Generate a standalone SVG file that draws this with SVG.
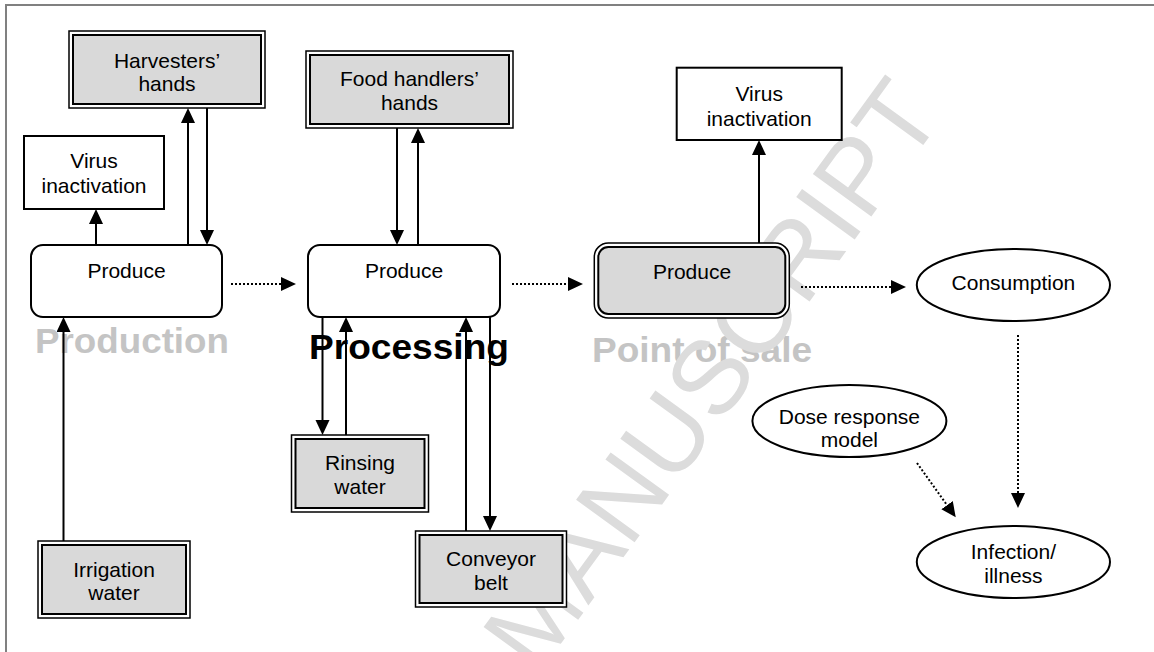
<svg xmlns="http://www.w3.org/2000/svg" width="1154" height="652" viewBox="0 0 1154 652">
<style>
text{font-family:"Liberation Sans",Arial,sans-serif;}
.lbl{font-size:21px;fill:#000;text-anchor:middle;}
.stage{font-size:35px;font-weight:bold;}
.gray{fill:#c4c4c4;}
.box{fill:#fff;stroke:#000;stroke-width:2;}
.outer{fill:#fff;stroke:#000;stroke-width:1.5;}
.inner{fill:#d9d9d9;stroke:#000;stroke-width:2;}
.ell{fill:#fff;stroke:#000;stroke-width:2;}
.solid{stroke:#000;stroke-width:2;fill:none;marker-end:url(#ah);}
.dot{stroke:#000;stroke-width:2;fill:none;stroke-dasharray:2 2;marker-end:url(#ah);}
.wm{font-size:105px;fill:#dcdcdc;}
</style>
<defs>
<marker id="ah" markerUnits="userSpaceOnUse" markerWidth="16" markerHeight="16" refX="3" refY="7" orient="auto">
<path d="M0,0 L15,7 L0,14 z" fill="#000"/>
</marker>
</defs>
<rect x="0" y="0" width="1154" height="652" fill="#fff"/>
<g id="frame" stroke="#808080" stroke-width="2" fill="none">
<line x1="5" y1="5" x2="1154" y2="5"/>
<line x1="6" y1="4" x2="6" y2="652"/>
</g>
<g id="stage-labels">
<text class="stage gray" x="35" y="353" textLength="194" lengthAdjust="spacingAndGlyphs">Production</text>
<text class="stage" x="309" y="359" textLength="200" lengthAdjust="spacingAndGlyphs">Processing</text>
<text class="stage gray" x="592" y="362" textLength="220" lengthAdjust="spacingAndGlyphs">Point of sale</text>
</g>
<text class="wm" transform="translate(945,115) rotate(-54)" text-anchor="end">MANUSCRIPT</text>
<g id="harvesters">
<rect class="outer" x="69" y="31" width="196" height="77"/>
<rect class="inner" x="73" y="35" width="188" height="69"/>
<text class="lbl" x="167" y="68">Harvesters’</text>
<text class="lbl" x="167" y="91">hands</text>
</g>
<g id="virus1">
<rect class="box" x="24" y="136" width="140" height="73"/>
<text class="lbl" x="94" y="168">Virus</text>
<text class="lbl" x="94" y="193">inactivation</text>
</g>
<g id="produce1">
<rect class="box" x="31" y="245" width="191" height="72" rx="12"/>
<text class="lbl" x="126.5" y="278">Produce</text>
</g>
<g id="irrigation">
<rect class="outer" x="38" y="541" width="152" height="77"/>
<rect class="inner" x="42" y="545" width="144" height="69"/>
<text class="lbl" x="114" y="577">Irrigation</text>
<text class="lbl" x="114" y="600">water</text>
</g>
<g id="foodhandlers">
<rect class="outer" x="306" y="51" width="207" height="77"/>
<rect class="inner" x="310" y="55" width="199" height="69"/>
<text class="lbl" x="409.5" y="86">Food handlers’</text>
<text class="lbl" x="409.5" y="110">hands</text>
</g>
<g id="produce2">
<rect class="box" x="308" y="245" width="192" height="72" rx="12"/>
<text class="lbl" x="404" y="278">Produce</text>
</g>
<g id="rinsing">
<rect class="outer" x="291.5" y="435" width="137" height="77"/>
<rect class="inner" x="295.5" y="439" width="129" height="69"/>
<text class="lbl" x="360" y="470">Rinsing</text>
<text class="lbl" x="360" y="494">water</text>
</g>
<g id="conveyor">
<rect class="outer" x="415.5" y="531" width="151" height="76"/>
<rect class="inner" x="419.5" y="535" width="143" height="68"/>
<text class="lbl" x="491" y="566">Conveyor</text>
<text class="lbl" x="491" y="590">belt</text>
</g>
<g id="produce3">
<rect class="outer" x="594.3" y="243" width="195" height="75" rx="14"/>
<rect class="inner" x="598.3" y="247" width="187" height="67" rx="10"/>
<text class="lbl" x="692" y="279">Produce</text>
</g>
<g id="virus2">
<rect class="box" x="676.7" y="67.7" width="165" height="72.3"/>
<text class="lbl" x="759.2" y="101">Virus</text>
<text class="lbl" x="759.2" y="126">inactivation</text>
</g>
<g id="consumption">
<ellipse class="ell" cx="1013.4" cy="285" rx="96.6" ry="36"/>
<text class="lbl" x="1013.4" y="290">Consumption</text>
</g>
<g id="dose">
<ellipse class="ell" cx="849.4" cy="421" rx="97" ry="36"/>
<text class="lbl" x="849.4" y="424">Dose response</text>
<text class="lbl" x="849.4" y="447">model</text>
</g>
<g id="infection">
<ellipse class="ell" cx="1013.4" cy="562" rx="96.6" ry="36"/>
<text class="lbl" x="1013.4" y="559">Infection/</text>
<text class="lbl" x="1013.4" y="583">illness</text>
</g>
<g id="connectors">
<line class="solid" x1="96" y1="245" x2="96" y2="221"/>
<line class="solid" x1="188" y1="245" x2="188" y2="120"/>
<line class="solid" x1="207" y1="108" x2="207" y2="233"/>
<line class="solid" x1="63.5" y1="541" x2="63.5" y2="329"/>
<line class="solid" x1="397" y1="128" x2="397" y2="233"/>
<line class="solid" x1="418" y1="245" x2="418" y2="140"/>
<line class="solid" x1="322.5" y1="317" x2="322.5" y2="423"/>
<line class="solid" x1="346" y1="435" x2="346" y2="329"/>
<line class="solid" x1="466" y1="531" x2="466" y2="329"/>
<line class="solid" x1="490" y1="317" x2="490" y2="519"/>
<line class="solid" x1="759" y1="243" x2="759" y2="152"/>
<line class="dot" x1="231" y1="284" x2="284" y2="284"/>
<line class="dot" x1="512" y1="284" x2="571" y2="284"/>
<line class="dot" x1="801" y1="287" x2="894" y2="287"/>
<line class="dot" x1="1018" y1="335" x2="1018" y2="496"/>
<line class="dot" x1="917" y1="463" x2="948.8" y2="507.6"/>
</g>
</svg>
